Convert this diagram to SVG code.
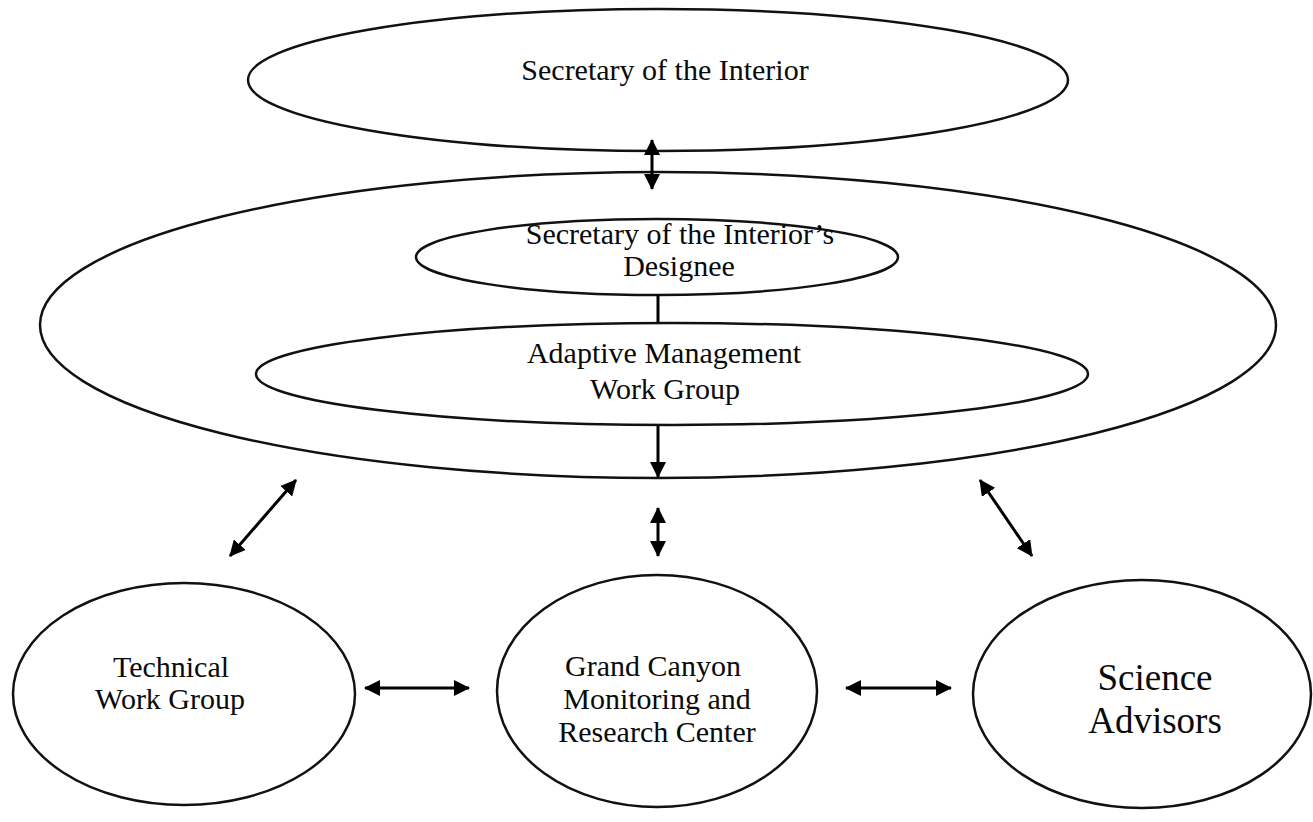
<svg xmlns="http://www.w3.org/2000/svg" width="1313" height="822" viewBox="0 0 1313 822">
<style>
.e{fill:#fff;stroke:#111;stroke-width:2.5}
.t{font-family:"Liberation Serif","Times New Roman",serif;font-size:30px;fill:#0a0a0a;text-anchor:middle}
.big{font-size:37px}
.c{stroke:#000;stroke-width:3;fill:none}
</style>
<defs>
<marker id="ah" viewBox="0 0 16 16" refX="15" refY="8" markerWidth="16" markerHeight="16" markerUnits="userSpaceOnUse" orient="auto-start-reverse">
<path d="M0,0 L16,8 L0,16 Z" fill="#000"/>
</marker>
</defs>
<rect width="1313" height="822" fill="#fff"/>
<g id="secretary">
<ellipse class="e" cx="658" cy="80" rx="410" ry="71"/>
<text class="t" x="665" y="80">Secretary of the Interior</text>
</g>
<g id="outer">
<ellipse class="e" cx="658" cy="325" rx="618" ry="153"/>
</g>
<g id="designee">
<ellipse class="e" cx="657" cy="257" rx="241" ry="38"/>
<text class="t" x="680" y="244">Secretary of the Interior’s</text>
<text class="t" x="679" y="276">Designee</text>
</g>
<g id="amwg">
<ellipse class="e" cx="672" cy="374" rx="416" ry="51"/>
<text class="t" x="664" y="363">Adaptive Management</text>
<text class="t" x="665" y="399">Work Group</text>
</g>
<g id="twg">
<ellipse class="e" cx="184" cy="694" rx="171" ry="111"/>
<text class="t" x="171" y="677">Technical</text>
<text class="t" x="170" y="709">Work Group</text>
</g>
<g id="gcmrc">
<ellipse class="e" cx="657" cy="691" rx="160" ry="116"/>
<text class="t" x="653" y="676">Grand Canyon</text>
<text class="t" x="657" y="709">Monitoring and</text>
<text class="t" x="657" y="742">Research Center</text>
</g>
<g id="science">
<ellipse class="e" cx="1142" cy="694" rx="169" ry="114"/>
<text class="t big" x="1155" y="690">Science</text>
<text class="t big" x="1155" y="733">Advisors</text>
</g>
<g id="connectors">
<line class="c" x1="652" y1="140" x2="652" y2="189" marker-start="url(#ah)" marker-end="url(#ah)"/>
<line class="c" x1="658" y1="295" x2="658" y2="323"/>
<line class="c" x1="658" y1="426" x2="658" y2="477" marker-end="url(#ah)"/>
<line class="c" x1="658" y1="508" x2="658" y2="556" marker-start="url(#ah)" marker-end="url(#ah)"/>
<line class="c" x1="296" y1="480" x2="230" y2="556" marker-start="url(#ah)" marker-end="url(#ah)"/>
<line class="c" x1="980" y1="480" x2="1032" y2="556" marker-start="url(#ah)" marker-end="url(#ah)"/>
<line class="c" x1="365" y1="688" x2="469" y2="688" marker-start="url(#ah)" marker-end="url(#ah)"/>
<line class="c" x1="846" y1="688" x2="951" y2="688" marker-start="url(#ah)" marker-end="url(#ah)"/>
</g>
</svg>
